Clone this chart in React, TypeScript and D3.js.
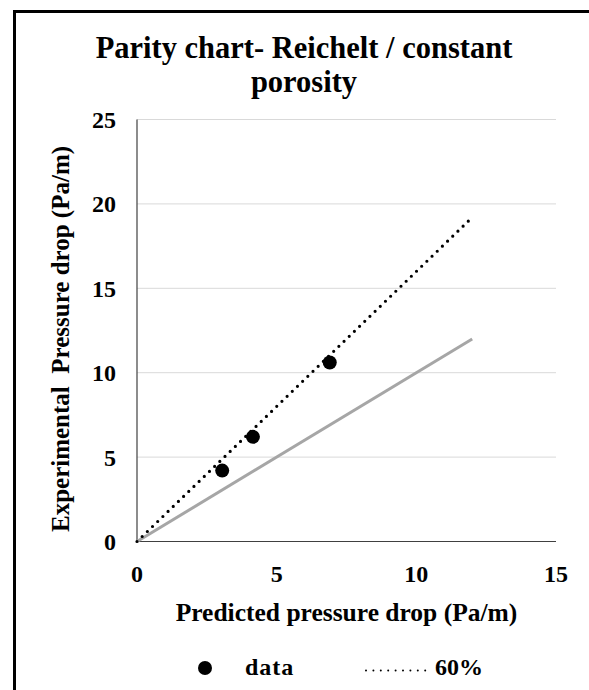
import React from "react";
import * as d3 from "d3";

const predicted = [3.05, 4.15, 6.9];
const experimental = [4.2, 6.2, 10.6];
const parityLine = [
  { x: 0, y: 0 },
  { x: 12, y: 12 },
];
const line60 = [
  { x: 0, y: 0 },
  { x: 12, y: 19.2 },
];
const xTicks = [0, 5, 10, 15];
const yTicks = [0, 5, 10, 15, 20, 25];
const titleLines = ["Parity chart- Reichelt / constant", "porosity"];
const xTitle = "Predicted pressure drop (Pa/m)";
const yTitle = "Experimental  Pressure drop (Pa/m)";
const legendLabels = ["data", "60%"];

const W = 589;
const H = 690;
const FONT = "'Liberation Serif', 'Times New Roman', serif";

export default function App() {
  const x = d3.scaleLinear().domain([0, 15]).range([137, 556]);
  const y = d3.scaleLinear().domain([0, 25]).range([541.5, 119.5]);
  const line = d3
    .line<{ x: number; y: number }>()
    .x((d) => x(d.x))
    .y((d) => y(d.y));

  const plotCx = (x(0) + x(15)) / 2;

  return (
    <svg
      width={W}
      height={H}
      style={{ position: "absolute", left: 0, top: 0, background: "#fff" }}
      fontFamily={FONT}
      fontWeight="bold"
    >
      <rect x={0} y={0} width={W} height={H} fill="#fff" />
      <rect x={14.5} y={11.5} width={700} height={800} fill="none" stroke="#000" strokeWidth={3} />

      {/* title */}
      <text x={304} y={58} textAnchor="middle" fontSize={30.5} fill="#000">
        {titleLines[0]}
      </text>
      <text x={304} y={92} textAnchor="middle" fontSize={30.5} fill="#000">
        {titleLines[1]}
      </text>

      {/* gridlines */}
      {yTicks
        .filter((t) => t > 0)
        .map((t) => (
          <line
            key={"g" + t}
            x1={x(0)}
            x2={x(15)}
            y1={y(t)}
            y2={y(t)}
            stroke="#d9d9d9"
            strokeWidth={1}
          />
        ))}

      {/* axes */}
      <line x1={x(0)} x2={x(0)} y1={y(25)} y2={y(0)} stroke="#404040" strokeWidth={1.2} />
      <line x1={x(0)} x2={x(15)} y1={y(0)} y2={y(0)} stroke="#404040" strokeWidth={1.2} />

      {/* y tick labels */}
      {yTicks.map((t) => (
        <text key={"yt" + t} x={116} y={y(t) + 8.5} textAnchor="end" fontSize={24} fill="#000">
          {t}
        </text>
      ))}
      {/* x tick labels */}
      {xTicks.map((t) => (
        <text key={"xt" + t} x={x(t)} y={582} textAnchor="middle" fontSize={24} fill="#000">
          {t}
        </text>
      ))}

      {/* parity line */}
      <path d={line(parityLine) || ""} fill="none" stroke="#a6a6a6" strokeWidth={3} />
      {/* 60% line */}
      <path
        d={line(line60) || ""}
        fill="none"
        stroke="#000"
        strokeWidth={3.2}
        strokeDasharray="0 7.2"
        strokeLinecap="round"
      />

      {/* data */}
      {predicted.map((p, i) => (
        <circle key={"p" + i} cx={x(p)} cy={y(experimental[i])} r={7} fill="#000" />
      ))}

      {/* axis titles */}
      <text x={plotCx} y={621} textAnchor="middle" fontSize={25.5} fill="#000">
        {xTitle}
      </text>
      <text
        transform={`translate(69, 339) rotate(-90)`}
        textAnchor="middle"
        fontSize={25}
        fill="#000"
        style={{ whiteSpace: "pre" }}
      >
        {yTitle}
      </text>

      {/* legend */}
      <circle cx={205} cy={668} r={7} fill="#000" />
      <text x={245} y={675} fontSize={24} fill="#000" letterSpacing={1}>
        {legendLabels[0]}
      </text>
      <line
        x1={366}
        x2={426}
        y1={670.5}
        y2={670.5}
        stroke="#000"
        strokeWidth={2}
        strokeDasharray="0 7.4"
        strokeLinecap="round"
      />
      <text x={435} y={675} fontSize={24} fill="#000">
        {legendLabels[1]}
      </text>
    </svg>
  );
}
